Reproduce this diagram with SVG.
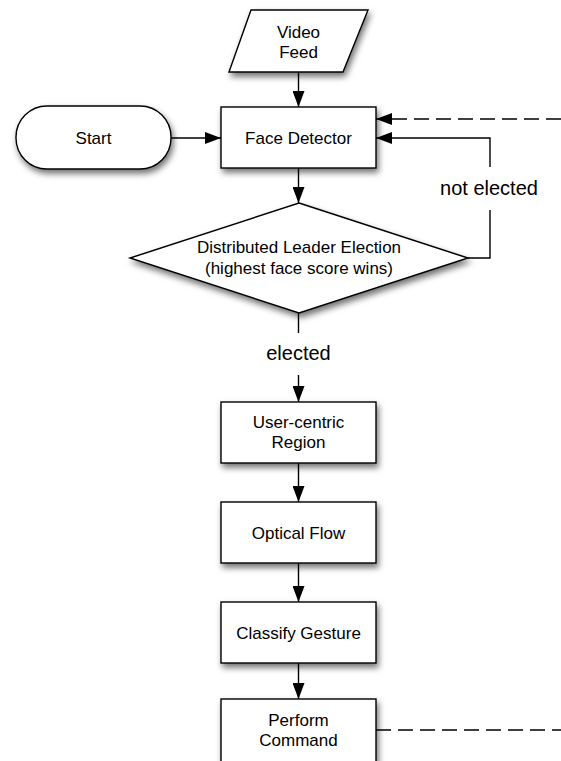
<svg xmlns="http://www.w3.org/2000/svg" width="561" height="761" viewBox="0 0 561 761">
  <defs>
    <filter id="shadow" x="-20%" y="-20%" width="150%" height="160%">
      <feDropShadow dx="2" dy="4" stdDeviation="3" flood-color="#000" flood-opacity="0.55"/>
    </filter>
    <marker id="arrow" viewBox="0 0 16 12" refX="16" refY="6" markerWidth="16" markerHeight="12" markerUnits="userSpaceOnUse" orient="auto">
      <path d="M0,0 L16,6 L0,12 Z" fill="#000"/>
    </marker>
  </defs>
  <style>
    .shape { fill: #fff; stroke: #000; stroke-width: 1.4; filter: url(#shadow); }
    .label { font-family: "Liberation Sans", Arial, Helvetica, sans-serif; font-size: 17px; fill: #000; text-anchor: middle; }
    .edge-label { font-family: "Liberation Sans", Arial, Helvetica, sans-serif; font-size: 20px; fill: #000; text-anchor: middle; }
    .link { fill: none; stroke: #000; stroke-width: 1.4; }
    .dashed { stroke-dasharray: 15 7; }
  </style>

  <rect width="561" height="761" fill="#fff"/>

  <!-- connectors -->
  <g id="connectors">
    <path class="link" d="M298.5,72 V107" marker-end="url(#arrow)"/>
    <path class="link" d="M171,138 H221" marker-end="url(#arrow)"/>
    <path class="link" d="M298.5,168 V203" marker-end="url(#arrow)"/>
    <path class="link" d="M298.5,313 V333"/>
    <path class="link" d="M298.5,375 V402" marker-end="url(#arrow)"/>
    <path class="link" d="M298.5,463 V502" marker-end="url(#arrow)"/>
    <path class="link" d="M298.5,563 V602" marker-end="url(#arrow)"/>
    <path class="link" d="M298.5,663 V699" marker-end="url(#arrow)"/>
    <path class="link" d="M468,258 H490 V210"/>
    <path class="link" d="M490,167 V138 H376" marker-end="url(#arrow)"/>
    <path class="link dashed" d="M561,119 H376" marker-end="url(#arrow)"/>
    <path class="link dashed" d="M376,730 H561"/>
    <text class="edge-label" x="489" y="195">not elected</text>
    <text class="edge-label" x="298.5" y="360">elected</text>
  </g>

  <g id="video-feed">
    <polygon class="shape" points="251,10 368,10 343,72 229,72"/>
    <text class="label" x="298.5" y="38">Video</text>
    <text class="label" x="298.5" y="58">Feed</text>
  </g>

  <g id="start">
    <rect class="shape" x="16" y="106" width="155" height="63" rx="31" ry="31"/>
    <text class="label" x="93.5" y="144">Start</text>
  </g>

  <g id="face-detector">
    <rect class="shape" x="221" y="107" width="155" height="61"/>
    <text class="label" x="298.5" y="144">Face Detector</text>
  </g>

  <g id="leader-election">
    <polygon class="shape" points="299,203 468,258 299,313 130,258"/>
    <text class="label" x="299" y="253">Distributed Leader Election</text>
    <text class="label" x="299" y="274">(highest face score wins)</text>
  </g>

  <g id="user-centric-region">
    <rect class="shape" x="221" y="402" width="155" height="61"/>
    <text class="label" x="298.5" y="428">User-centric</text>
    <text class="label" x="298.5" y="448">Region</text>
  </g>

  <g id="optical-flow">
    <rect class="shape" x="221" y="502" width="155" height="61"/>
    <text class="label" x="298.5" y="539">Optical Flow</text>
  </g>

  <g id="classify-gesture">
    <rect class="shape" x="221" y="602" width="155" height="61"/>
    <text class="label" x="298.5" y="639">Classify Gesture</text>
  </g>

  <g id="perform-command">
    <rect class="shape" x="221" y="699" width="155" height="70"/>
    <text class="label" x="298.5" y="726">Perform</text>
    <text class="label" x="298.5" y="746">Command</text>
  </g>
</svg>
